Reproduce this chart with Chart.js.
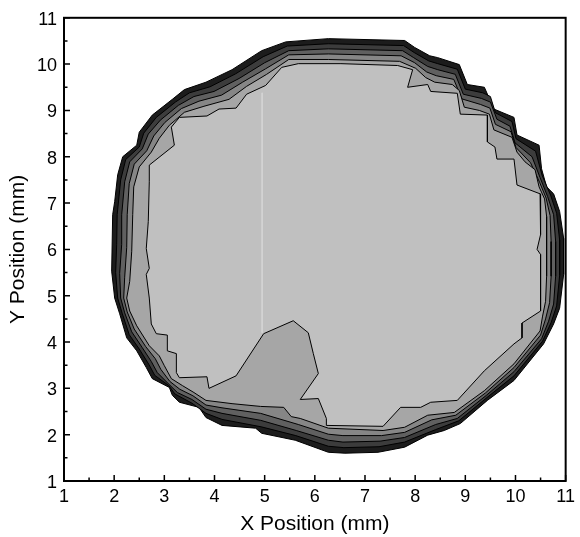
<!DOCTYPE html>
<html>
<head>
<meta charset="utf-8">
<script src="https://cdn.jsdelivr.net/npm/chart.js@4.4.0/dist/chart.umd.min.js"></script>
<style>
  body { margin: 0; background: #fff; }
</style>
</head>
<body>
<canvas id="grafico" width="580" height="537"></canvas>
<script>
const axisTicks = [1, 2, 3, 4, 5, 6, 7, 8, 9, 10, 11];
const minorTicks = [1.5, 2.5, 3.5, 4.5, 5.5, 6.5, 7.5, 8.5, 9.5, 10.5];

// contour lines of the spot, from the edge inwards (x, y in mm)
const outerContour = [
  [2.01, 7.03], [2.07, 7.61], [2.17, 8.00], [2.45, 8.25], [2.50, 8.53], [2.76, 8.90],
  [3.16, 9.24], [3.40, 9.45], [3.83, 9.61], [4.35, 9.88], [4.94, 10.29], [5.42, 10.48],
  [6.27, 10.55], [7.79, 10.51], [7.99, 10.36], [8.29, 10.18], [8.45, 10.14], [8.88, 9.99],
  [9.04, 9.56], [9.38, 9.50], [9.57, 9.03], [9.97, 8.85], [10.03, 8.47], [10.47, 8.25],
  [10.52, 7.74], [10.62, 7.35], [10.76, 7.20], [10.88, 6.82], [10.96, 6.24], [10.96, 5.46],
  [10.88, 4.73], [10.76, 4.39], [10.56, 3.96], [9.97, 3.17], [9.44, 2.74], [8.90, 2.24],
  [8.58, 2.09], [8.25, 1.99], [7.79, 1.73], [7.26, 1.62], [6.60, 1.60], [6.27, 1.62],
  [5.61, 1.88], [4.94, 2.03], [4.82, 2.14], [4.15, 2.20], [3.83, 2.37], [3.69, 2.59],
  [3.30, 2.70], [3.16, 2.85], [3.10, 3.02], [2.76, 3.21], [2.64, 3.45], [2.45, 3.81],
  [2.25, 4.09], [2.11, 4.61], [2.01, 4.95], [1.95, 5.53], [1.97, 6.75], [2.01, 7.03]
];
const darkContour = [
  [2.06, 6.75], [2.13, 7.50], [2.23, 7.94], [2.50, 8.21], [2.59, 8.51], [2.84, 8.85],
  [3.22, 9.18], [3.50, 9.38], [3.91, 9.51], [4.42, 9.79], [4.97, 10.16], [5.45, 10.39],
  [6.27, 10.44], [7.77, 10.40], [7.98, 10.25], [8.27, 10.07], [8.45, 10.01], [8.84, 9.89],
  [9.00, 9.46], [9.35, 9.38], [9.50, 9.30], [9.60, 8.95], [9.93, 8.76], [10.01, 8.39],
  [10.40, 8.12], [10.53, 7.60], [10.70, 7.17], [10.82, 6.78], [10.88, 6.20], [10.88, 5.44],
  [10.82, 4.78], [10.71, 4.42], [10.54, 4.02], [9.97, 3.27], [9.43, 2.80], [8.87, 2.30],
  [8.41, 2.11], [7.79, 1.84], [7.28, 1.74], [6.58, 1.72], [6.27, 1.75], [5.62, 1.98],
  [4.93, 2.17], [4.15, 2.33], [3.83, 2.46], [3.55, 2.68], [3.21, 2.88], [3.09, 3.06],
  [2.81, 3.28], [2.69, 3.52], [2.50, 3.85], [2.30, 4.16], [2.16, 4.62], [2.07, 4.95],
  [2.03, 5.50], [2.05, 6.11], [2.06, 6.75]
];
const midContour = [
  [2.15, 6.75], [2.21, 7.46], [2.31, 7.89], [2.56, 8.17], [2.68, 8.49], [2.92, 8.79],
  [3.28, 9.11], [3.59, 9.30], [3.99, 9.41], [4.49, 9.69], [5.00, 10.03], [5.48, 10.29],
  [6.27, 10.33], [7.75, 10.29], [7.97, 10.14], [8.25, 9.95], [8.45, 9.88], [8.80, 9.78],
  [8.96, 9.35], [9.32, 9.26], [9.50, 9.18], [9.63, 8.81], [9.89, 8.66], [9.99, 8.30],
  [10.33, 8.00], [10.49, 7.55], [10.64, 7.14], [10.76, 6.75], [10.80, 6.17], [10.80, 5.42],
  [10.76, 4.82], [10.66, 4.45], [10.52, 4.07], [9.97, 3.36], [9.42, 2.85], [8.84, 2.35],
  [8.41, 2.22], [7.79, 1.94], [7.30, 1.86], [6.56, 1.84], [6.27, 1.88], [5.63, 2.09],
  [4.92, 2.31], [4.15, 2.46], [3.83, 2.55], [3.55, 2.76], [3.26, 2.91], [3.08, 3.10],
  [2.86, 3.34], [2.74, 3.58], [2.56, 3.88], [2.35, 4.22], [2.21, 4.63], [2.13, 4.95],
  [2.11, 5.48], [2.15, 6.11], [2.15, 6.75]
];
const paleContour = [
  [2.26, 6.75], [2.30, 7.42], [2.40, 7.84], [2.65, 8.13], [2.79, 8.45], [3.01, 8.74],
  [3.34, 9.04], [3.69, 9.20], [4.14, 9.33], [4.56, 9.61], [5.02, 9.90], [5.48, 10.20],
  [6.27, 10.22], [7.72, 10.18], [7.99, 10.03], [8.23, 9.83], [8.42, 9.75], [8.77, 9.67],
  [8.93, 9.25], [9.30, 9.13], [9.49, 9.05], [9.60, 8.70], [9.91, 8.54], [10.01, 8.20],
  [10.30, 7.87], [10.48, 7.45], [10.61, 7.11], [10.69, 6.73], [10.71, 6.17], [10.71, 5.42],
  [10.68, 4.85], [10.60, 4.50], [10.50, 4.15], [9.97, 3.45], [9.40, 2.90], [8.81, 2.42],
  [8.33, 2.32], [7.79, 2.05], [7.33, 1.98], [6.56, 1.98], [6.27, 2.01], [5.67, 2.22],
  [4.92, 2.46], [4.15, 2.58], [3.83, 2.64], [3.57, 2.84], [3.31, 2.98], [3.11, 3.15],
  [2.93, 3.41], [2.82, 3.64], [2.63, 3.90], [2.40, 4.28], [2.26, 4.65], [2.19, 4.95],
  [2.21, 5.40], [2.25, 6.04], [2.26, 6.75]
];
const bandContour = [
  [2.37, 6.75], [2.39, 7.35], [2.50, 7.78], [2.74, 8.10], [2.90, 8.40], [3.10, 8.68],
  [3.40, 8.96], [3.79, 9.09], [4.29, 9.24], [4.64, 9.52], [5.04, 9.78], [5.48, 10.10],
  [6.27, 10.10], [7.69, 10.06], [8.01, 9.91], [8.21, 9.71], [8.39, 9.61], [8.74, 9.56],
  [8.88, 9.43], [8.98, 9.07], [9.28, 9.00], [9.48, 8.92], [9.57, 8.58], [9.93, 8.42],
  [10.03, 8.10], [10.19, 7.89], [10.39, 7.72], [10.47, 7.35], [10.58, 7.09], [10.62, 6.71],
  [10.62, 6.17], [10.62, 5.42], [10.60, 4.88], [10.54, 4.56], [10.49, 4.24], [9.97, 3.53],
  [9.38, 2.95], [8.78, 2.48], [8.25, 2.42], [7.79, 2.16], [7.36, 2.09], [6.27, 2.14],
  [5.71, 2.35], [5.53, 2.39], [5.38, 2.59], [4.92, 2.61], [4.35, 2.67], [3.83, 2.74],
  [3.59, 2.91], [3.36, 3.06], [3.14, 3.21], [3.00, 3.49], [2.90, 3.70], [2.70, 3.92],
  [2.45, 4.35], [2.31, 4.67], [2.25, 4.95], [2.31, 5.31], [2.35, 5.96], [2.37, 6.75]
];
const innerContour = [
  [2.70, 7.46], [2.70, 7.82], [3.20, 8.25], [3.14, 8.64], [3.30, 8.85], [3.85, 8.88],
  [4.09, 9.03], [4.43, 9.05], [4.64, 9.35], [5.02, 9.54], [5.34, 9.93], [5.67, 10.01],
  [6.52, 10.01], [7.65, 9.97], [7.95, 9.88], [7.85, 9.50], [8.25, 9.56], [8.31, 9.41],
  [8.84, 9.37], [8.90, 8.92], [9.44, 8.90], [9.44, 8.32], [9.59, 8.21], [9.63, 7.95],
  [9.97, 7.95], [10.03, 7.39], [10.49, 7.20], [10.50, 6.32], [10.43, 6.00], [10.50, 5.89],
  [10.50, 4.67], [10.13, 4.41], [10.13, 4.09], [9.97, 3.96], [9.38, 3.38], [8.84, 2.74],
  [8.31, 2.70], [8.11, 2.59], [7.71, 2.59], [7.36, 2.18], [6.23, 2.20], [6.23, 2.35],
  [6.07, 2.78], [5.71, 2.76], [6.07, 3.32], [5.97, 3.75], [5.87, 4.20], [5.57, 4.46],
  [4.98, 4.18], [4.43, 3.27], [3.89, 3.00], [3.85, 3.25], [3.30, 3.23], [3.24, 3.34],
  [3.24, 3.75], [3.06, 3.81], [3.06, 4.15], [2.84, 4.18], [2.74, 4.39], [2.70, 4.95],
  [2.64, 5.46], [2.70, 5.59], [2.64, 6.02], [2.68, 6.60], [2.70, 7.46]
];
const seamLine = [[4.95, 9.38], [4.95, 4.20]];

function contourDataset(points, fillColor, order) {
  return {
    data: points,
    showLine: true,
    fill: 'shape',
    backgroundColor: fillColor,
    borderColor: '#000',
    borderWidth: 1,
    pointRadius: 0,
    tension: 0,
    order: order
  };
}

// ticks pointing into the plot plus the frame
const frameTicks = {
  id: 'frameTicks',
  afterDatasetsDraw(chart) {
    const { ctx, chartArea: a, scales } = chart;
    const x = scales.x;
    const y = scales.y;
    ctx.save();
    ctx.strokeStyle = '#000';
    ctx.lineWidth = 1.5;
    ctx.beginPath();
    axisTicks.forEach(v => {
      const px = x.getPixelForValue(v);
      ctx.moveTo(px, a.bottom);
      ctx.lineTo(px, a.bottom - 6);
      const py = y.getPixelForValue(v);
      ctx.moveTo(a.left, py);
      ctx.lineTo(a.left + 6, py);
    });
    minorTicks.forEach(v => {
      const px = x.getPixelForValue(v);
      ctx.moveTo(px, a.bottom);
      ctx.lineTo(px, a.bottom - 3.5);
      const py = y.getPixelForValue(v);
      ctx.moveTo(a.left, py);
      ctx.lineTo(a.left + 3.5, py);
    });
    ctx.stroke();
    ctx.lineWidth = 2;
    ctx.strokeRect(a.left, a.top, a.right - a.left, a.bottom - a.top);
    ctx.restore();
  }
};

const fonte = 'Liberation Sans, Arial, Helvetica, sans-serif';

new Chart(document.getElementById('grafico').getContext('2d'), {
  type: 'scatter',
  data: {
    datasets: [
      {
        data: seamLine,
        showLine: true,
        borderColor: '#d4d4d4',
        borderWidth: 1,
        pointRadius: 0,
        order: 0
      },
      contourDataset(innerContour, '#c0c0c0', 1),
      contourDataset(bandContour, '#a6a6a6', 2),
      contourDataset(paleContour, '#868686', 3),
      contourDataset(midContour, '#606060', 4),
      contourDataset(darkContour, '#3c3c3c', 5),
      contourDataset(outerContour, '#1c1c1c', 6)
    ]
  },
  options: {
    responsive: false,
    animation: false,
    devicePixelRatio: 1,
    layout: { padding: { top: 15, right: 11, left: 0, bottom: 0 } },
    plugins: {
      legend: { display: false },
      tooltip: { enabled: false }
    },
    scales: {
      x: {
        type: 'linear',
        min: 1,
        max: 11,
        afterBuildTicks: s => { s.ticks = axisTicks.map(v => ({ value: v })); },
        afterFit: s => { s.height = 56; },
        grid: { display: false, drawTicks: false },
        border: { display: false },
        ticks: { color: '#000', font: { family: fonte, size: 18 }, padding: 5, maxRotation: 0, autoSkip: false },
        title: { display: true, text: 'X Position (mm)', color: '#000', font: { family: fonte, size: 21 }, padding: 0 }
      },
      y: {
        type: 'linear',
        min: 1,
        max: 11,
        afterBuildTicks: s => { s.ticks = axisTicks.map(v => ({ value: v })); },
        afterFit: s => { s.width = 64; },
        grid: { display: false, drawTicks: false },
        border: { display: false },
        ticks: { color: '#000', font: { family: fonte, size: 18 }, padding: 7, labelOffset: 2, autoSkip: false },
        title: { display: true, text: 'Y Position (mm)', color: '#000', font: { family: fonte, size: 21 }, padding: { top: 6, bottom: 0 } }
      }
    }
  },
  plugins: [frameTicks]
});
</script>
</body>
</html>
